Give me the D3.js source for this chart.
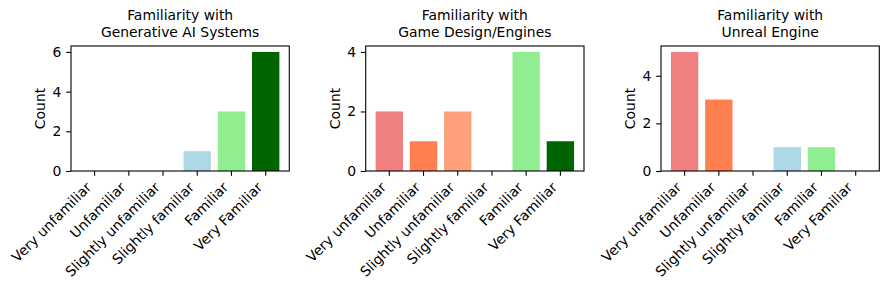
<!DOCTYPE html>
<html>
<head>
<meta charset="utf-8">
<script src="https://cdn.jsdelivr.net/npm/d3@7"></script>
<style>
  body { margin: 0; background: #fff; }
  svg text { font-family: "DejaVu Sans", sans-serif; fill: #000; }
</style>
</head>
<body>
<div id="plot"></div>
<script>
var categories = ["Very unfamiliar", "Unfamiliar", "Slightly unfamiliar", "Slightly familiar", "Familiar", "Very Familiar"];
var barColors = ["lightcoral", "coral", "lightsalmon", "lightblue", "lightgreen", "darkgreen"];

var titles = [
  ["Familiarity with", "Generative AI Systems"],
  ["Familiarity with", "Game Design/Engines"],
  ["Familiarity with", "Unreal Engine"]
];
var genAI = [0, 0, 0, 1, 3, 6];
var gameDesign = [2, 1, 2, 0, 4, 1];
var unreal = [5, 3, 0, 1, 1, 0];
var yTicks = [[0, 2, 4, 6], [0, 2, 4], [0, 2, 4]];

var series = [genAI, gameDesign, unreal];
var lefts = [71, 365.7, 661];
var axW = 218.3, axTop = 46, axBottom = 171;
var fs = 13.9, tick = 4.86;

var svg = d3.select("div#plot")
  .append("svg")
    .attr("width", 888)
    .attr("height", 290);

series.forEach(function(values, p) {
  var left = lefts[p];
  var g = svg.append("g");

  var x = d3.scaleBand()
    .domain(categories)
    .range([left, left + axW])
    .paddingInner(0.2)
    .paddingOuter(0.29);

  var y = d3.scaleLinear()
    .domain([0, d3.max(values) * 1.05])
    .range([axBottom, axTop]);

  g.selectAll("rect.bar")
    .data(values)
    .enter().append("rect")
      .attr("class", "bar")
      .attr("x", function(d, i) { return x(categories[i]); })
      .attr("width", x.bandwidth())
      .attr("y", function(d) { return y(d); })
      .attr("height", function(d) { return axBottom - y(d); })
      .style("fill", function(d, i) { return barColors[i]; });

  // frame
  g.append("rect")
    .attr("x", left)
    .attr("y", axTop)
    .attr("width", axW)
    .attr("height", axBottom - axTop)
    .attr("fill", "none")
    .attr("stroke", "#000")
    .attr("stroke-width", 1.1);

  var yAxis = d3.axisLeft(y)
    .tickValues(yTicks[p])
    .tickFormat(d3.format("d"))
    .tickSize(tick)
    .tickPadding(tick)
    .tickSizeOuter(0);

  var ya = g.append("g")
    .attr("transform", "translate(" + left + ",0)")
    .call(yAxis);
  ya.select(".domain").remove();
  ya.selectAll("line").attr("stroke", "#000").attr("stroke-width", 1.1);
  ya.selectAll("text").style("font-size", fs + "px").attr("font-family", null);

  var xAxis = d3.axisBottom(x)
    .tickSize(tick)
    .tickSizeOuter(0)
    .tickFormat("");

  var xa = g.append("g")
    .attr("transform", "translate(0," + axBottom + ")")
    .call(xAxis);
  xa.select(".domain").remove();
  xa.selectAll("line").attr("stroke", "#000").attr("stroke-width", 1.1);

  // rotated category labels, right/top aligned like matplotlib
  var h = fs * 0.996;
  g.selectAll("g.xlab")
    .data(categories)
    .enter().append("g")
      .attr("class", "xlab")
      .attr("transform", function(d) {
        var cx = x(d) + x.bandwidth() / 2;
        return "translate(" + (cx - 0.707 * h) + "," + (axBottom + 2 * tick) + ") rotate(-45)";
      })
    .append("text")
      .attr("y", fs * 0.76)
      .attr("text-anchor", "end")
      .style("font-size", fs + "px")
      .text(function(d) { return d; });

  g.append("text")
    .attr("transform", "translate(" + (left - 26) + "," + ((axTop + axBottom) / 2) + ") rotate(-90)")
    .attr("text-anchor", "middle")
    .style("font-size", fs + "px")
    .text("Count");

  g.selectAll("text.title")
    .data(titles[p])
    .enter().append("text")
      .attr("class", "title")
      .attr("x", left + axW / 2)
      .attr("y", function(d, i) { return 20.3 + i * 16.3; })
      .attr("text-anchor", "middle")
      .style("font-size", fs + "px")
      .text(function(d) { return d; });
});
</script>
</body>
</html>
